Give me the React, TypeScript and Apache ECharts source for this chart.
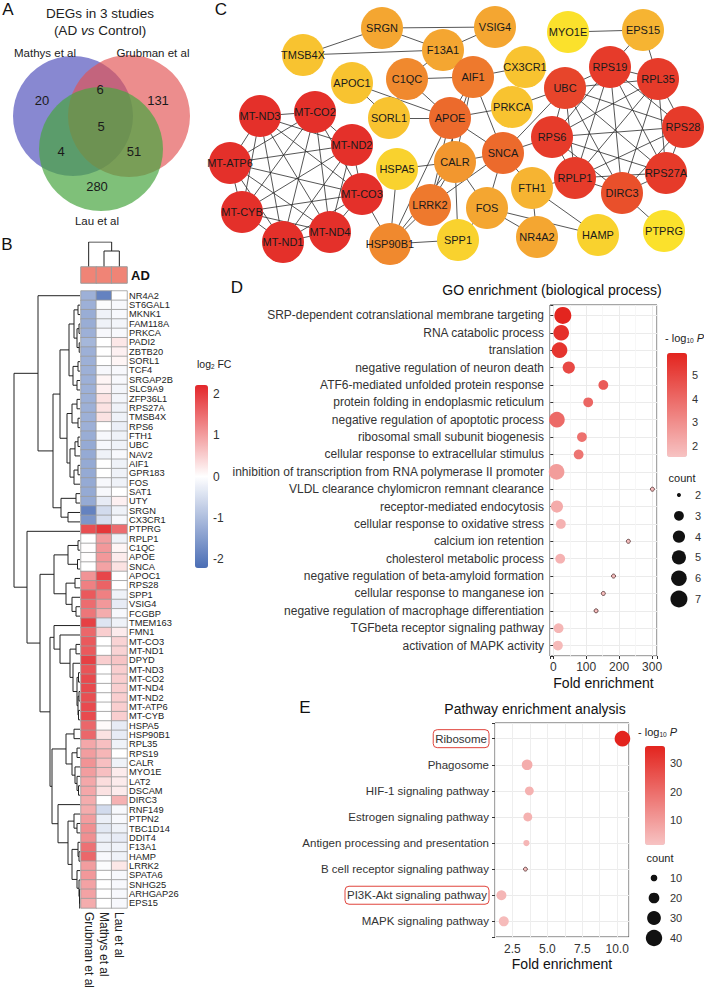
import React, { useEffect, useRef } from 'react';
import * as echarts from 'echarts';

const FONT = '"Liberation Sans", Arial, Helvetica, sans-serif';

// ---------------- Panel A: Venn ----------------
const vennSetNames = ['Mathys et al', 'Grubman et al', 'Lau et al'];
const vennRegions = ['M', 'G', 'L', 'MG', 'ML', 'GL', 'MGL'];
const vennCounts = [20, 131, 280, 6, 4, 51, 5];

// ---------------- Panel B: heatmap ----------------
const heatColumns = ['Grubman et al', 'Mathys et al', 'Lau et al'];
const heatGenes = [
  'NR4A2', 'ST6GAL1', 'MKNK1', 'FAM118A', 'PRKCA', 'PADI2', 'ZBTB20', 'SORL1', 'TCF4', 'SRGAP2B',
  'SLC9A9', 'ZFP36L1', 'RPS27A', 'TMSB4X', 'RPS6', 'FTH1', 'UBC', 'NAV2', 'AIF1', 'GPR183',
  'FOS', 'SAT1', 'UTY', 'SRGN', 'CX3CR1', 'PTPRG', 'RPLP1', 'C1QC', 'APOE', 'SNCA',
  'APOC1', 'RPS28', 'SPP1', 'VSIG4', 'FCGBP', 'TMEM163', 'FMN1', 'MT-CO3', 'MT-ND1', 'DPYD',
  'MT-ND3', 'MT-CO2', 'MT-ND4', 'MT-ND2', 'MT-ATP6', 'MT-CYB', 'HSPA5', 'HSP90B1', 'RPL35', 'RPS19',
  'CALR', 'MYO1E', 'LAT2', 'DSCAM', 'DIRC3', 'RNF149', 'PTPN2', 'TBC1D14', 'DDIT4', 'F13A1',
  'HAMP', 'LRRK2', 'SPATA6', 'SNHG25', 'ARHGAP26', 'EPS15',
];
const fcGrubman = [
  -1.2, -1.2, -1.25, -1.25, -1.2, -1.1, -1.2, -1.2, -1.2, -1.2,
  -1.2, -1.2, -1.2, -1.2, -1.2, -1.25, -1.3, -1.3, -1.3, -1.3,
  -1.3, -1.3, -1.3, -1.9, -1.6, 1.8, 0.0, 0.02, 0.02, 0.0,
  1.1, 1.3, 1.7, 1.5, 1.4, 1.95, 1.55, 1.7, 1.7, 1.95,
  1.75, 1.85, 1.85, 1.8, 1.85, 1.85, 1.55, 1.55, 0.9, 1.0,
  1.1, 1.0, 0.9, 0.9, 0.85, 0.85, 1.0, 1.15, 1.15, 1.45,
  1.55, 1.0, 1.05, 0.95, 0.95, 0.85,
];
const fcMathys = [
  -1.9, -0.05, -0.2, -0.2, -0.1, 0.0, 0.0, 0.0, -0.1, 0.1,
  0.15, 0.3, 0.3, 0.3, 0.0, -0.1, -0.1, -0.2, 0.0, 0.0,
  -0.1, -0.1, -0.3, -0.55, -0.5, 2.05, 1.0, 1.05, 1.05, 0.95,
  1.9, 1.6, 1.3, 1.05, 0.85, -0.4, 0.5, 0.0, 0.0, 0.5,
  0.0, 0.0, 0.0, 0.0, 0.0, 0.0, 0.05, 0.3, 0.65, 0.75,
  0.65, 0.65, 0.35, 0.3, 0.0, -0.55, -0.25, -0.35, -0.25, -0.2,
  -0.1, -0.05, 0.0, 0.0, 0.0, 0.0,
];
const fcLau = [
  0.0, -0.1, -0.1, -0.15, -0.1, 0.25, 0.15, 0.1, -0.1, -0.1,
  -0.15, -0.15, -0.2, -0.2, -0.25, -0.2, -0.2, -0.1, -0.2, -0.2,
  -0.2, 0.0, 0.15, -0.2, -0.1, 1.5, -0.2, 0.1, 0.2, 0.3,
  0.0, 0.0, -0.2, -0.3, -0.1, -0.2, 0.2, 0.45, 0.45, 0.6,
  0.5, 0.5, 0.5, 0.5, 0.5, 0.5, -0.3, -0.3, -0.2, 0.0,
  -0.2, 0.2, 0.2, 0.2, 0.8, -0.1, -0.1, -0.2, -0.3, -0.2,
  -0.2, 0.25, -0.1, -0.1, -0.1, -0.1,
];
const annotationLabel = ['AD'];
// hierarchical clustering: [height, left, right]; leaves are row indices
const rowTree: any = [66,
  [42, 0,
    [27,
      [20,
        [11, [6, [2, 1, 2], [3, [1, 3, 4], [0.8, 5, 6]]], [7, [2, 7, 8], [3, 9, 10]]],
        [13, [8, [3, 11, 12], [2, 13, 14]], [10, [5, [2, 15, 16], 17], [6, [2, 18, 19], 20]]],
      ],
      [19, [4, 21, 22], [12, 23, 24]],
    ],
  ],
  [53, 25,
    [40,
      [26,
        [12, [2, 26, 27], [2.5, 28, 29]],
        [14, [5, 30, 31], [8, 32, [4, 33, 34]]],
      ],
      [30,
        [26, 35, [20, 36, [10, [4, 37, 38], [7, 39, [3, [1.5, 40, 41], [2, [1, 42, 43], [1.5, 44, 45]]]]]]],
        [28,
          [14, [6, 46, 47], [8, [3, 48, 49], [5, 50, [3, 51, [1.5, 52, 53]]]]],
          [22, 54, [12, [6, 55, [3, 56, 57]], [8, [2, 58, [1, 59, 60]], [3, 61, [1, 62, [0.5, 63, [0.3, 64, 65]]]]]]],
        ],
      ],
    ],
  ],
];
const colTree: any = [25, 0, [16, 1, 2]];

// ---------------- Panel C: network ----------------
// [gene, layout x, layout y, degree score]
const netNodes: [string, number, number, number][] = [
  ['TMSB4X', 303, 55, 3], ['SRGN', 382, 28, 5], ['F13A1', 443, 50, 5], ['VSIG4', 495, 27, 5],
  ['MYO1E', 568, 32, 1], ['EPS15', 643, 30, 4], ['APOC1', 352, 83, 3], ['C1QC', 407, 79, 7],
  ['AIF1', 473, 77, 8], ['CX3CR1', 525, 67, 3], ['UBC', 565, 88, 12], ['RPS19', 610, 67, 13],
  ['RPL35', 658, 79, 13], ['SORL1', 389, 118, 3], ['APOE', 450, 118, 9], ['PRKCA', 512, 107, 3],
  ['RPS6', 552, 137, 13], ['RPS28', 683, 127, 13], ['MT-ND3', 260, 116, 14], ['MT-CO2', 315, 112, 14],
  ['MT-ND2', 352, 145, 14], ['MT-ATP6', 230, 163, 14], ['MT-CO3', 362, 194, 14], ['MT-CYB', 242, 212, 14],
  ['MT-ND1', 283, 242, 14], ['MT-ND4', 330, 232, 14], ['HSPA5', 397, 169, 2], ['CALR', 455, 162, 6],
  ['LRRK2', 430, 205, 8], ['SNCA', 503, 153, 9], ['RPLP1', 575, 178, 13], ['DIRC3', 622, 193, 11],
  ['RPS27A', 666, 173, 13], ['FTH1', 532, 188, 4], ['FOS', 487, 208, 5], ['HSP90B1', 390, 244, 7],
  ['SPP1', 458, 240, 2], ['NR4A2', 537, 237, 5], ['HAMP', 598, 235, 2], ['PTPRG', 664, 231, 1],
];
const netEdges: [string, string][] = [
  ['TMSB4X', 'SRGN'], ['TMSB4X', 'F13A1'], ['SRGN', 'F13A1'], ['SRGN', 'VSIG4'], ['F13A1', 'VSIG4'],
  ['F13A1', 'C1QC'], ['C1QC', 'AIF1'], ['C1QC', 'APOE'], ['C1QC', 'SORL1'], ['APOC1', 'SORL1'],
  ['APOC1', 'APOE'], ['SORL1', 'APOE'], ['AIF1', 'CX3CR1'], ['AIF1', 'APOE'], ['AIF1', 'CALR'],
  ['AIF1', 'SNCA'], ['AIF1', 'LRRK2'], ['MYO1E', 'EPS15'], ['EPS15', 'RPS19'], ['EPS15', 'RPL35'],
  ['PRKCA', 'UBC'], ['PRKCA', 'APOE'], ['APOE', 'SNCA'], ['APOE', 'CALR'], ['APOE', 'LRRK2'],
  ['APOE', 'HSP90B1'], ['CALR', 'HSPA5'], ['CALR', 'HSP90B1'], ['CALR', 'LRRK2'], ['CALR', 'SNCA'],
  ['CALR', 'FOS'], ['CALR', 'SPP1'], ['HSPA5', 'HSP90B1'], ['HSP90B1', 'LRRK2'], ['HSP90B1', 'SPP1'],
  ['HSP90B1', 'MT-CO3'], ['LRRK2', 'SNCA'], ['SNCA', 'FTH1'], ['SNCA', 'FOS'], ['SNCA', 'RPS6'],
  ['SNCA', 'UBC'], ['FOS', 'NR4A2'], ['FOS', 'HAMP'], ['FOS', 'SPP1'], ['FTH1', 'NR4A2'],
  ['FTH1', 'HAMP'], ['FTH1', 'RPLP1'], ['DIRC3', 'PTPRG'], ['UBC', 'RPS19'], ['UBC', 'RPL35'],
  ['UBC', 'RPS6'], ['UBC', 'RPS28'], ['UBC', 'RPS27A'], ['UBC', 'RPLP1'], ['UBC', 'DIRC3'],
];
const mtClique = ['MT-ND3', 'MT-CO2', 'MT-ND2', 'MT-ATP6', 'MT-CO3', 'MT-CYB', 'MT-ND1', 'MT-ND4'];
const riboClique = ['RPS19', 'RPL35', 'RPS6', 'RPS28', 'RPS27A', 'RPLP1', 'DIRC3'];

// ---------------- Panel D: GO enrichment ----------------
const goTerms = [
  'SRP-dependent cotranslational membrane targeting',
  'RNA catabolic process',
  'translation',
  'negative regulation of neuron death',
  'ATF6-mediated unfolded protein response',
  'protein folding in endoplasmic reticulum',
  'negative regulation of apoptotic process',
  'ribosomal small subunit biogenesis',
  'cellular response to extracellular stimulus',
  'inhibition of transcription from RNA polymerase II promoter',
  'VLDL clearance chylomicron remnant clearance',
  'receptor-mediated endocytosis',
  'cellular response to oxidative stress',
  'calcium ion retention',
  'cholesterol metabolic process',
  'negative regulation of beta-amyloid formation',
  'cellular response to manganese ion',
  'negative regulation of macrophage differentiation',
  'TGFbeta receptor signaling pathway',
  'activation of MAPK activity',
];
const goFold = [29, 24, 19, 47, 152, 106, 11, 87, 77, 10, 301, 11, 23, 228, 21, 183, 152, 130, 16, 14];
const goLogP = [5.9, 5.6, 5.5, 4.9, 4.4, 4.1, 4.0, 3.8, 3.7, 2.6, 1.7, 2.2, 2.0, 1.7, 2.0, 1.7, 1.7, 1.7, 1.9, 1.8];
const goCount = [7, 6, 6, 4, 3, 3, 6, 3, 3, 6, 2, 4, 3, 2, 3, 2, 2, 2, 3, 3];
const goCountLegend = [2, 3, 4, 5, 6, 7];

// ---------------- Panel E: pathway enrichment ----------------
const pathTerms = [
  'Ribosome', 'Phagosome', 'HIF-1 signaling pathway', 'Estrogen signaling pathway',
  'Antigen processing and presentation', 'B cell receptor signaling pathway',
  'PI3K-Akt signaling pathway', 'MAPK signaling pathway',
];
const pathFold = [10.38, 3.55, 3.71, 3.6, 3.5, 3.43, 1.71, 1.88];
const pathLogP = [36, 6, 5, 5, 4, 2, 4, 3];
const pathCount = [37, 20, 15, 15, 9, 5, 18, 18];
const pathHighlight = ['Ribosome', 'PI3K-Akt signaling pathway'];
const pathCountLegend = [10, 20, 30, 40];

// ---------------- helpers ----------------
const sizeGO = (c: number) => 4 + 13 * Math.sqrt(Math.max(0, c - 2) / 5);
const sizePath = (c: number) => 3.06 * Math.sqrt(c) - 3;

function hexToRgb(h: string) {
  const n = parseInt(h.slice(1), 16);
  return [(n >> 16) & 255, (n >> 8) & 255, n & 255];
}
const nodeStops: [number, string][] = [[1, '#FBE12C'], [4, '#F6B432'], [7, '#F0892E'], [10, '#EA5A2B'], [14, '#E4302A']];
function nodeColor(v: number) {
  for (let i = 0; i < nodeStops.length - 1; i++) {
    const [a, ca] = nodeStops[i];
    const [b, cb] = nodeStops[i + 1];
    if (v <= b) {
      const t = Math.max(0, (v - a) / (b - a));
      const A = hexToRgb(ca), B = hexToRgb(cb);
      return `rgb(${A.map((x, k) => Math.round(x + (B[k] - x) * t)).join(',')})`;
    }
  }
  return nodeStops[nodeStops.length - 1][1];
}

function dendro(tree: any, rowMode: boolean) {
  const segs: any[] = [];
  const walk = (t: any): [number, number] => {
    if (typeof t === 'number') return [t, 0];
    const [h, a, b] = t;
    const [pa, ha] = walk(a);
    const [pb, hb] = walk(b);
    const pts = [[ha, pa], [h, pa], [h, pb], [hb, pb]];
    segs.push({ coords: rowMode ? pts : pts.map(([hh, p]) => [p, hh]) });
    return [(pa + pb) / 2, h];
  };
  walk(tree);
  return segs;
}

const isInt = (v: number) => Math.abs(v - Math.round(v)) < 1e-6;

function txt(x: number, y: number, text: string, o: any = {}) {
  return {
    type: 'text', x, y, z: 50,
    style: {
      text, fontFamily: FONT, fontSize: o.size || 12, fill: o.fill || '#222',
      align: o.align || 'center', verticalAlign: 'middle', fontWeight: o.weight || 'normal',
      rich: o.rich,
    },
  };
}

function buildOption() {
  const hidden = (extra: any) => ({ show: false, type: 'value', splitLine: { show: false }, ...extra });
  const intLabel = (step: number) => (v: number) => (isInt(v / step) ? String(Math.round(v)) : '');
  const labelAxis = (gridIndex: number, min: number, max: number, extra: any = {}, label: any = {}) => ({
    gridIndex, type: 'value', min, max, position: 'right',
    axisLine: { show: false }, axisTick: { show: false }, splitLine: { show: false },
    axisLabel: { fontSize: 11, color: '#333', fontFamily: FONT, margin: 5, formatter: intLabel(1), ...label },
    ...extra,
  });

  // heatmap data
  const fcCols = [fcGrubman, fcMathys, fcLau];
  const heatData: any[] = [];
  fcCols.forEach((col, c) => col.forEach((v, r) => heatData.push([c, r, v])));

  // network
  const edgeSet: [string, string][] = [...netEdges];
  [mtClique, riboClique].forEach((g) => {
    for (let i = 0; i < g.length; i++) for (let j = i + 1; j < g.length; j++) edgeSet.push([g[i], g[j]]);
  });

  // Venn layout
  const circles = [
    { cx: 73, cy: 116, r: 60, fill: 'rgba(86,86,190,0.70)' },
    { cx: 129, cy: 116, r: 61, fill: 'rgba(226,82,82,0.66)' },
    { cx: 101, cy: 149, r: 62, fill: 'rgba(72,165,64,0.70)' },
  ];
  const regionPos: any = { M: [42, 100], G: [158, 100], L: [97, 186], MG: [100, 89], ML: [61, 151], GL: [134, 151], MGL: [101, 126] };
  const setLabelPos = [[45, 53], [153, 53], [97, 221]];

  const subRich = (size: number) => ({
    n: { fontSize: size, fontFamily: FONT, color: '#222' },
    s: { fontSize: size * 0.6, fontFamily: FONT, color: '#222', verticalAlign: 'bottom', padding: [size * 0.45, 0, 0, 0] },
    i: { fontSize: size, fontFamily: FONT, fontStyle: 'italic', color: '#222' },
  });

  const graphic: any[] = [
    txt(8, 9, 'A', { size: 17, fill: '#111' }),
    txt(7, 244, 'B', { size: 17, fill: '#111' }),
    txt(221, 9, 'C', { size: 17, fill: '#111' }),
    txt(237, 287, 'D', { size: 17, fill: '#111' }),
    txt(305, 707, 'E', { size: 17, fill: '#111' }),
    txt(100, 13, 'DEGs in 3 studies', { size: 13.5 }),
    txt(100, 30, '{n|(AD }{i|vs}{n| Control)}', { size: 13.5, rich: subRich(13.5) }),
    ...circles.map((c) => ({ type: 'circle', z: 10, shape: { cx: c.cx, cy: c.cy, r: c.r }, style: { fill: c.fill } })),
    ...vennSetNames.map((n, i) => txt(setLabelPos[i][0], setLabelPos[i][1], n, { size: 11.5 })),
    ...vennRegions.map((k, i) => txt(regionPos[k][0], regionPos[k][1], String(vennCounts[i]), { size: 13, fill: '#1a1a1a' })),
    txt(197, 364, '{n|log}{s|2}{n| FC}', { size: 10.5, align: 'left', rich: subRich(10.5) }),
    txt(552, 290, 'GO enrichment (biological process)', { size: 14, fill: '#111' }),
    txt(535, 709, 'Pathway enrichment analysis', { size: 14, fill: '#111' }),
    txt(665, 338, '{n|- log}{s|10}{n| }{i|P}', { size: 11, align: 'left', rich: subRich(11) }),
    txt(682, 478, 'count', { size: 11 }),
    txt(638, 732, '{n|- log}{s|10}{n| }{i|P}', { size: 11, align: 'left', rich: subRich(11) }),
    txt(660, 858, 'count', { size: 11 }),
  ];

  const plotGrid = { show: true, borderColor: '#4d4d4d', borderWidth: 1, backgroundColor: 'transparent' };

  const grid = [
    { left: 14, top: 291, width: 66, height: 622 },
    { left: 81, top: 242, width: 46, height: 25 },
    { left: 81, top: 267, width: 46, height: 16 },
    { left: 81, top: 291, width: 46, height: 622 },
    { left: 195, top: 385, width: 13, height: 183 },
    { left: 200, top: 0, width: 504, height: 265 },
    { left: 550, top: 305, width: 107, height: 351, ...plotGrid },
    { left: 667, top: 353, width: 20, height: 104 },
    { left: 670, top: 484.6, width: 18, height: 124.8 },
    { left: 495, top: 723, width: 134, height: 214, ...plotGrid },
    { left: 645, top: 746, width: 20, height: 99 },
    { left: 645, top: 868, width: 18, height: 80 },
  ];

  const axisTxt = { color: '#333', fontFamily: FONT };

  const xAxis: any[] = [
    hidden({ gridIndex: 0, min: 0, max: 66, inverse: true }),
    hidden({ gridIndex: 1, min: -0.5, max: 2.5 }),
    { gridIndex: 2, type: 'category', data: heatColumns, show: false },
    {
      gridIndex: 3, type: 'category', data: heatColumns, position: 'bottom',
      axisLine: { show: false }, axisTick: { show: false },
      axisLabel: { rotate: -90, interval: 0, fontSize: 12, margin: 4, ...axisTxt, color: '#222' },
    },
    hidden({ gridIndex: 4, min: 0, max: 1 }),
    hidden({ gridIndex: 5, min: 200, max: 704 }),
    {
      gridIndex: 6, type: 'value', min: -10, max: 315, splitNumber: 3,
      axisLine: { show: false },
      axisTick: { show: true, length: 3, lineStyle: { color: '#333' } },
      axisLabel: { fontSize: 12, margin: 5, ...axisTxt, formatter: (v: number) => (Math.abs(v % 100) < 1e-6 ? String(v) : '') },
      splitLine: { show: true, lineStyle: { color: '#EBEBEB', width: 1 } },
      minorTick: { show: false, splitNumber: 2 },
      minorSplitLine: { show: true, lineStyle: { color: '#F5F5F5', width: 0.8 } },
      name: 'Fold enrichment', nameLocation: 'middle', nameGap: 20,
      nameTextStyle: { fontSize: 14, color: '#111', fontFamily: FONT },
    },
    hidden({ gridIndex: 7, min: 0, max: 1 }),
    hidden({ gridIndex: 8, min: 0, max: 1 }),
    {
      gridIndex: 9, type: 'value', min: 1.25, max: 10.85, interval: 1.25,
      axisLine: { show: false }, axisTick: { show: false },
      axisLabel: {
        fontSize: 12, margin: 6, ...axisTxt,
        formatter: (v: number) => (isInt(v / 2.5) ? v.toFixed(1) : ''),
      },
      splitLine: { show: true, lineStyle: { color: '#EEEEEE', width: 1 } },
      name: 'Fold enrichment', nameLocation: 'middle', nameGap: 20,
      nameTextStyle: { fontSize: 14, color: '#111', fontFamily: FONT },
    },
    hidden({ gridIndex: 10, min: 0, max: 1 }),
    hidden({ gridIndex: 11, min: 0, max: 1 }),
  ];

  const yAxis: any[] = [
    hidden({ gridIndex: 0, min: -0.5, max: 65.5, inverse: true }),
    hidden({ gridIndex: 1, min: 0, max: 25 }),
    {
      gridIndex: 2, type: 'category', data: annotationLabel, position: 'right',
      axisLine: { show: false }, axisTick: { show: false },
      axisLabel: { fontSize: 13, fontWeight: 'bold', margin: 4, color: '#111', fontFamily: FONT },
    },
    {
      gridIndex: 3, type: 'category', data: heatGenes, inverse: true, position: 'right',
      axisLine: { show: false }, axisTick: { show: false },
      axisLabel: { fontSize: 9.3, lineHeight: 9.3, margin: 2, color: '#222', fontFamily: FONT, interval: 0 },
    },
    labelAxis(4, -2.22, 2.22, { splitNumber: 4 }, { fontSize: 12 }),
    hidden({ gridIndex: 5, min: 0, max: 265, inverse: true }),
    {
      gridIndex: 6, type: 'value', min: 0.4, max: 20.6, inverse: true, splitNumber: 20,
      axisLine: { show: false },
      axisTick: { show: true, length: 3, lineStyle: { color: '#333' } },
      axisLabel: {
        fontSize: 12, margin: 6, ...axisTxt,
        formatter: (v: number) => {
          const i = Math.round(v);
          return isInt(v) && i >= 1 && i <= goTerms.length ? goTerms[i - 1] : '';
        },
      },
      splitLine: { show: true, lineStyle: { color: '#EBEBEB', width: 1 } },
    },
    labelAxis(7, 1.54, 5.93, { splitNumber: 4 }),
    labelAxis(8, 1.5, 7.5, { inverse: true, splitNumber: 6 }, { margin: 7 }),
    {
      gridIndex: 9, type: 'value', min: 0.4, max: 8.6, inverse: true, splitNumber: 8,
      axisLine: { show: false },
      axisTick: { show: true, length: 3, lineStyle: { color: '#333' } },
      axisLabel: {
        fontSize: 11.5, margin: 6, ...axisTxt,
        formatter: (v: number) => {
          const i = Math.round(v);
          if (!isInt(v) || i < 1 || i > pathTerms.length) return '';
          const t = pathTerms[i - 1];
          return pathHighlight.includes(t) ? `{box|${t}}` : t;
        },
        rich: {
          box: {
            fontSize: 11.5, fontFamily: FONT, color: '#333',
            borderColor: '#E0443C', borderWidth: 1, borderRadius: 4, padding: [3, 2, 3, 2],
          },
        },
      },
      splitLine: { show: true, lineStyle: { color: '#EBEBEB', width: 1 } },
    },
    labelAxis(10, 1.2, 36, { splitNumber: 3 }, { formatter: intLabel(10) }),
    labelAxis(11, 5, 45, { inverse: true, splitNumber: 4 }, { margin: 7, formatter: intLabel(10) }),
  ];

  const dendroStyle = { color: '#222', width: 1, opacity: 1, curveness: 0 };

  const series: any[] = [
    { type: 'lines', coordinateSystem: 'cartesian2d', xAxisIndex: 0, yAxisIndex: 0, polyline: true, silent: true, lineStyle: dendroStyle, data: dendro(rowTree, true) },
    { type: 'lines', coordinateSystem: 'cartesian2d', xAxisIndex: 1, yAxisIndex: 1, polyline: true, silent: true, lineStyle: dendroStyle, data: dendro(colTree, false) },
    {
      type: 'heatmap', xAxisIndex: 2, yAxisIndex: 2,
      data: heatColumns.map((_, c) => [c, 0, 1]),
      itemStyle: { borderColor: '#9b9b9b', borderWidth: 1 },
    },
    {
      type: 'heatmap', xAxisIndex: 3, yAxisIndex: 3, data: heatData,
      itemStyle: { borderColor: '#9b9b9b', borderWidth: 0.8 },
    },
    {
      type: 'graph', coordinateSystem: 'cartesian2d', xAxisIndex: 5, yAxisIndex: 5,
      symbolSize: 42, roam: false, z: 3,
      data: netNodes.map(([name, x, y, score]) => ({ name, value: [x, y], itemStyle: { color: nodeColor(score) } })),
      links: edgeSet.map(([s, t]) => ({ source: s, target: t })),
      label: { show: true, position: 'inside', fontSize: 11, color: '#1a1a1a', fontFamily: FONT },
      lineStyle: { color: '#2b2b2b', width: 0.8, opacity: 1, curveness: 0 },
      emphasis: { disabled: true },
    },
    {
      type: 'scatter', xAxisIndex: 6, yAxisIndex: 6, z: 4,
      data: goTerms.map((t, i) => ({
        value: [goFold[i], i + 1, goCount[i], goLogP[i]],
        itemStyle: goCount[i] <= 2 ? { borderColor: '#5a3a3a', borderWidth: 0.9 } : {},
      })),
      symbolSize: (v: number[]) => sizeGO(v[2]),
      itemStyle: { opacity: 1 },
    },
    {
      type: 'scatter', xAxisIndex: 8, yAxisIndex: 8,
      data: goCountLegend.map((c) => [0.5, c, c]),
      symbolSize: (v: number[]) => sizeGO(v[2]),
      itemStyle: { color: '#111', opacity: 1 },
    },
    {
      type: 'scatter', xAxisIndex: 9, yAxisIndex: 9, z: 4,
      data: pathTerms.map((t, i) => ({
        value: [pathFold[i], i + 1, pathCount[i], pathLogP[i]],
        itemStyle: pathCount[i] <= 6 ? { borderColor: '#5a3a3a', borderWidth: 0.9 } : {},
      })),
      symbolSize: (v: number[]) => sizePath(v[2]),
      itemStyle: { opacity: 1 },
    },
    {
      type: 'scatter', xAxisIndex: 11, yAxisIndex: 11,
      data: pathCountLegend.map((c) => [0.5, c, c]),
      symbolSize: (v: number[]) => sizePath(v[2]),
      itemStyle: { color: '#111', opacity: 1 },
    },
  ];

  const vmBase = { type: 'continuous', orient: 'vertical', calculable: false, padding: 0, hoverLink: false };
  const visualMap: any[] = [
    { ...vmBase, seriesIndex: 3, dimension: 2, min: -2.22, max: 2.22, left: 195, top: 385, itemWidth: 13, itemHeight: 183, inRange: { color: ['#4A6DB5', '#FFFFFF', '#E3262A'] } },
    { ...vmBase, show: false, seriesIndex: 2, dimension: 2, min: 0, max: 1, inRange: { color: ['#F08476', '#F08476'] } },
    { ...vmBase, seriesIndex: 5, dimension: 3, min: 1.54, max: 5.93, left: 667, top: 353, itemWidth: 20, itemHeight: 104, inRange: { color: ['#F7C3C3', '#E3241E'] } },
    { ...vmBase, seriesIndex: 7, dimension: 3, min: 1.2, max: 36, left: 645, top: 746, itemWidth: 20, itemHeight: 99, inRange: { color: ['#F7C3C3', '#E3241E'] } },
  ];

  return {
    animation: false,
    backgroundColor: '#ffffff',
    textStyle: { fontFamily: FONT },
    grid, xAxis, yAxis, series, visualMap, graphic,
  };
}

export default function App() {
  const ref = useRef<HTMLDivElement>(null);
  useEffect(() => {
    const chart = echarts.init(ref.current as HTMLDivElement, null, { renderer: 'svg' });
    chart.setOption(buildOption() as any);
    return () => chart.dispose();
  }, []);
  return (
    <div
      ref={ref}
      style={{ position: 'absolute', left: 0, top: 0, width: 704, height: 991, background: '#fff' }}
    />
  );
}
